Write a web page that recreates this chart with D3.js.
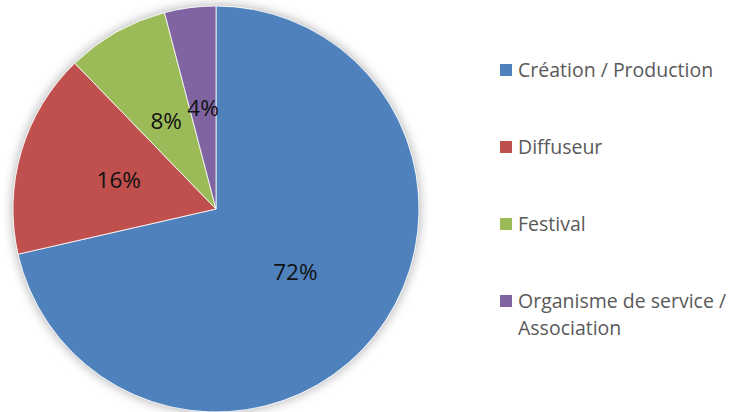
<!DOCTYPE html>
<html><head><meta charset="utf-8">
<script src="https://cdn.jsdelivr.net/npm/d3@7"></script>
<style>html,body{margin:0;padding:0;background:#fff;}svg{display:block;}</style>
</head><body>
<svg id="chart" width="729" height="412"></svg>
<script>
const categories = ["Création / Production", "Diffuseur", "Festival", "Organisme de service / Association"];
const legendLines = [["Création / Production"], ["Diffuseur"], ["Festival"], ["Organisme de service /", "Association"]];
const values = [35, 8, 4, 2];
const valueLabels = ["72%", "16%", "8%", "4%"];
const colors = ["#4F81BD", "#C0504D", "#9BBB59", "#8064A2"];

const svg = d3.select("#chart");
const cx = 216, cy = 209, r = 203;

const defs = svg.append("defs");
const f = defs.append("filter").attr("id","sh").attr("x","-20%").attr("y","-20%").attr("width","140%").attr("height","140%");
f.append("feGaussianBlur").attr("in","SourceAlpha").attr("stdDeviation",6).attr("result","b");
f.append("feOffset").attr("in","b").attr("dx",0).attr("dy",0).attr("result","o");
f.append("feComponentTransfer").attr("in","o").attr("result","t").append("feFuncA").attr("type","linear").attr("slope",0.35);
const m = f.append("feMerge"); m.append("feMergeNode").attr("in","t"); m.append("feMergeNode").attr("in","SourceGraphic");

const pie = d3.pie().sort(null).value(d => d)(values);
const arc = d3.arc().innerRadius(0).outerRadius(r);
const g = svg.append("g").attr("transform", `translate(${cx},${cy})`);
g.append("circle").attr("r", r).attr("fill", "#fff").attr("filter","url(#sh)");
g.selectAll("path.s").data(pie).join("path").attr("class","s")
  .attr("d", arc).attr("fill", (d,i) => colors[i]).attr("stroke","#fff").attr("stroke-width",0.8);
g.selectAll("text.l").data(pie).join("text").attr("class","l")
  .attr("transform", d => { const c = arc.centroid(d); return `translate(${c[0]},${c[1]})`; })
  .attr("text-anchor","middle").attr("dy","0.36em")
  .attr("font-family","'Open Sans', sans-serif").attr("font-size",22.5).attr("fill","#111")
  .text((d,i) => valueLabels[i]);

const y = d3.scalePoint().domain(categories).range([70, 301]);
const lg = svg.append("g");
categories.forEach((c,i) => {
  const yy = y(c);
  lg.append("rect").attr("x",500).attr("y",yy-6).attr("width",12).attr("height",12).attr("fill",colors[i]);
  const t = lg.append("text").attr("x",518).attr("y",yy)
    .attr("font-family","'Open Sans', sans-serif").attr("font-size",19.5).attr("fill","#595959");
  legendLines[i].forEach((ln,j) => t.append("tspan").attr("x",518).attr("dy", j===0 ? "0.36em" : "1.38em").text(ln));
});
</script>
</body></html>
